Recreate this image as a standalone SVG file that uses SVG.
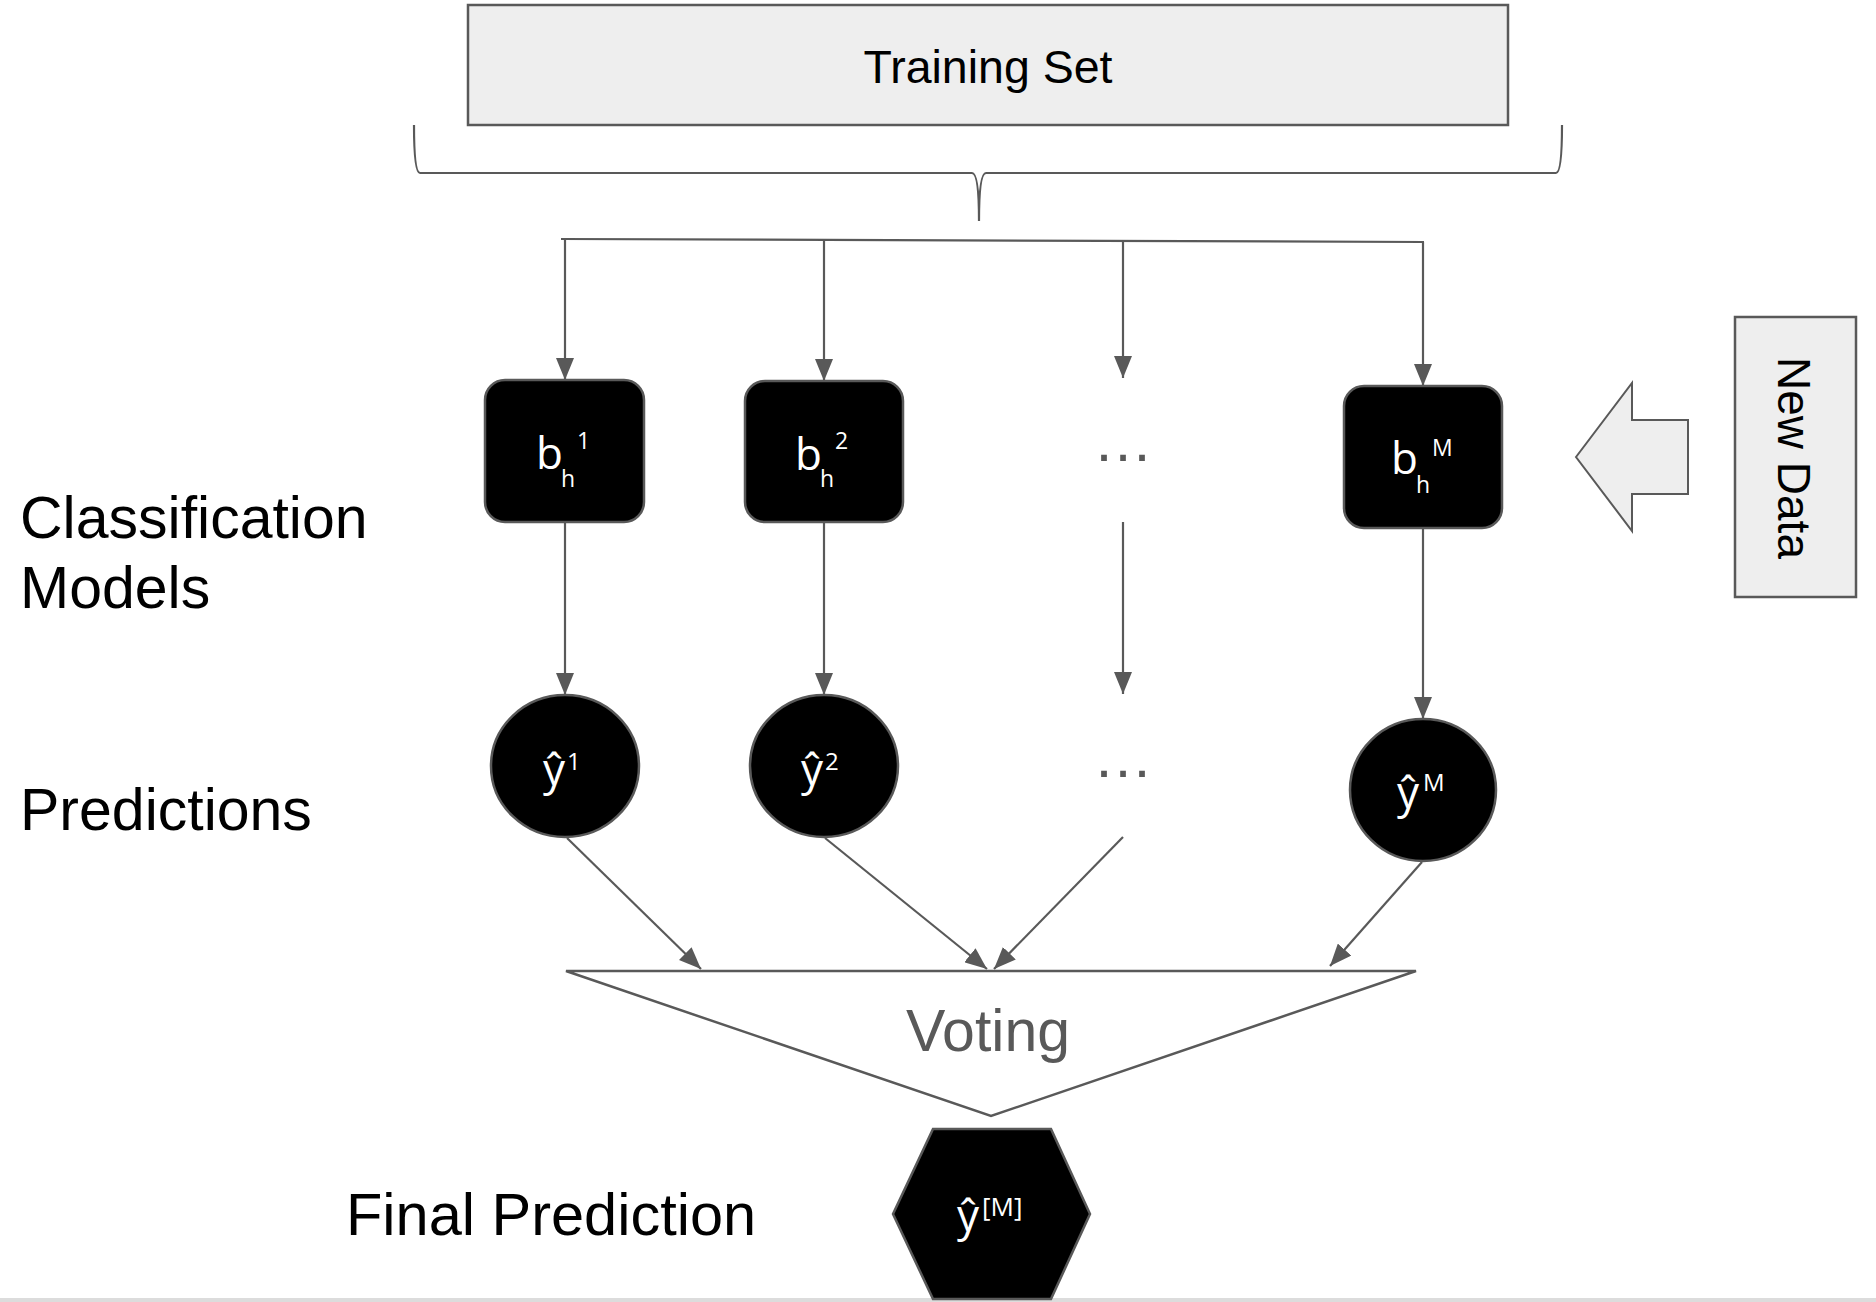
<svg xmlns="http://www.w3.org/2000/svg" width="1876" height="1302" viewBox="0 0 1876 1302">
<style>
.lbl{font-family:"Liberation Sans",Arial,sans-serif;fill:#000}
.wt{font-family:"Open Sans","Noto Sans",sans-serif;fill:#fff}
.dots{font-family:"Liberation Sans",Arial,sans-serif;fill:#595959;font-size:60px;text-anchor:middle}
.conn{stroke:#595959;stroke-width:2.2;fill:none}
.blk{fill:#000;stroke:#595959;stroke-width:2.5}
.gray{fill:#eeeeee;stroke:#595959;stroke-width:2.5}
</style>
<defs>
<marker id="ah" viewBox="0 0 22 18" refX="22" refY="9" markerWidth="22" markerHeight="18" orient="auto" markerUnits="userSpaceOnUse">
<path d="M0,0 L22,9 L0,18 Z" fill="#595959"/>
</marker>
</defs>
<rect x="0" y="0" width="1876" height="1302" fill="#fff"/>
<rect x="0" y="1298" width="1876" height="4" fill="#dcdcdc"/>

<g id="training-set">
<rect class="gray" x="468" y="5" width="1040" height="120"/>
<text class="lbl" x="988" y="83" font-size="46.5" text-anchor="middle">Training Set</text>
</g>

<g id="connectors">
<path class="conn" d="M414,125 Q414,173 420,173 L972,173 Q979,173 979,221 Q979,173 986,173 L1556,173 Q1562,173 1562,125"/>
<path class="conn" d="M561,239 L1424,242"/>
<line class="conn" x1="565" y1="239" x2="565" y2="380" marker-end="url(#ah)"/>
<line class="conn" x1="824" y1="240" x2="824" y2="381" marker-end="url(#ah)"/>
<line class="conn" x1="1123" y1="241" x2="1123" y2="378" marker-end="url(#ah)"/>
<line class="conn" x1="1423" y1="242" x2="1423" y2="386" marker-end="url(#ah)"/>
<line class="conn" x1="565" y1="522" x2="565" y2="695" marker-end="url(#ah)"/>
<line class="conn" x1="824" y1="522" x2="824" y2="695" marker-end="url(#ah)"/>
<line class="conn" x1="1123" y1="522" x2="1123" y2="694" marker-end="url(#ah)"/>
<line class="conn" x1="1423" y1="528" x2="1423" y2="719" marker-end="url(#ah)"/>
<line class="conn" x1="567" y1="838" x2="701" y2="969" marker-end="url(#ah)"/>
<line class="conn" x1="825" y1="838" x2="987" y2="969" marker-end="url(#ah)"/>
<line class="conn" x1="1123" y1="837" x2="994" y2="969" marker-end="url(#ah)"/>
<line class="conn" x1="1422" y1="862" x2="1330" y2="966" marker-end="url(#ah)"/>
<polygon points="1576,457 1632,383 1632,420 1688,420 1688,494 1632,494 1632,531" fill="#eeeeee" stroke="#595959" stroke-width="2"/>
</g>

<g id="new-data">
<rect class="gray" x="1735" y="317" width="121" height="280"/>
<text class="lbl" font-size="46" text-anchor="middle" transform="translate(1778,458) rotate(90)">New Data</text>
</g>

<g id="label-classification">
<text class="lbl" x="20" y="538" font-size="59">Classification</text>
<text class="lbl" x="20" y="608" font-size="59">Models</text>
</g>
<g id="label-predictions">
<text class="lbl" x="20" y="830" font-size="59">Predictions</text>
</g>
<g id="label-final">
<text class="lbl" x="346" y="1235" font-size="59.5">Final Prediction</text>
</g>

<g id="model-1">
<rect class="blk" x="485" y="380" width="159" height="142" rx="20"/>
<text class="wt" x="536" y="469" font-size="44">b</text>
<text class="wt" x="561" y="487" font-size="23">h</text>
<text class="wt" x="577" y="449" font-size="23">1</text>
</g>
<g id="model-2">
<rect class="blk" x="745" y="381" width="158" height="141" rx="20"/>
<text class="wt" x="795" y="470" font-size="44">b</text>
<text class="wt" x="820" y="487" font-size="23">h</text>
<text class="wt" x="835" y="449" font-size="23">2</text>
</g>
<g id="model-dots">
<text class="dots" x="1123" y="461">…</text>
</g>
<g id="model-M">
<rect class="blk" x="1344" y="386" width="158" height="142" rx="20"/>
<text class="wt" x="1391" y="474" font-size="44">b</text>
<text class="wt" x="1416" y="493" font-size="23">h</text>
<text class="wt" x="1432" y="456" font-size="23">M</text>
</g>

<g id="pred-1">
<ellipse class="blk" cx="565" cy="766" rx="74" ry="71"/>
<text class="wt" x="543" y="785" font-size="44">ŷ</text>
<text class="wt" x="567" y="770" font-size="24">1</text>
</g>
<g id="pred-2">
<ellipse class="blk" cx="824" cy="766" rx="74" ry="71"/>
<text class="wt" x="801" y="785" font-size="44">ŷ</text>
<text class="wt" x="825" y="770" font-size="24">2</text>
</g>
<g id="pred-dots">
<text class="dots" x="1123" y="777">…</text>
</g>
<g id="pred-M">
<ellipse class="blk" cx="1423" cy="790" rx="73" ry="71"/>
<text class="wt" x="1397" y="808" font-size="44">ŷ</text>
<text class="wt" x="1423" y="791" font-size="24">M</text>
</g>

<g id="voting">
<polygon points="566,971 1416,971 991,1116" fill="#fff" stroke="#595959" stroke-width="2.5"/>
<text x="988" y="1051" font-size="59" text-anchor="middle" font-family="Liberation Sans, Arial, sans-serif" fill="#595959">Voting</text>
</g>

<g id="final">
<polygon class="blk" points="933,1129 1051,1129 1090,1214 1051,1299 933,1299 893,1214"/>
<text class="wt" x="957" y="1231" font-size="44">ŷ</text>
<text class="wt" x="982" y="1216" font-size="26">[M]</text>
</g>
</svg>
